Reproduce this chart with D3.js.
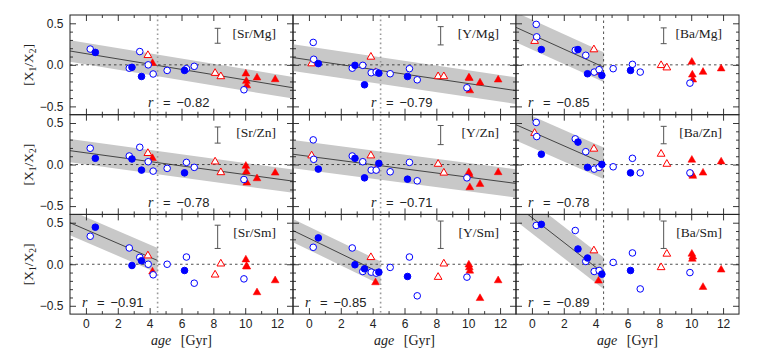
<!DOCTYPE html>
<html><head><meta charset="utf-8">
<script src="https://cdn.jsdelivr.net/npm/d3@7"></script>
<style>body{margin:0;background:#fff} svg{display:block}</style>
</head><body><svg id="c" width="764" height="354"></svg>
<script>
// ---- data ----
const starAge  = [0.27,0.30,0.17,0.59,2.72,2.89,3.38,3.49,3.89,3.91,4.18,4.22,4.39,5.10,6.19,6.31,6.80,8.11,8.47,9.92,10.04,10.07,10.10,10.74,11.88];
const starType = ["oc","oc","ot","fc","oc","fc","oc","fc","ot","oc","ft","oc","fc","oc","fc","oc","oc","ot","ot","oc","ft","ft","ft","ft","ft"];

const ratioSrMg = [0.19,null,null,0.15,-0.04,-0.03,0.16,-0.14,0.115,0.0,0.02,-0.11,null,-0.067,-0.067,-0.046,-0.018,-0.10,-0.14,-0.30,-0.107,-0.196,-0.25,-0.155,-0.176];
const ratioYMg  = [0.27,0.067,0.015,0.015,-0.04,-0.006,-0.006,-0.24,0.095,-0.095,-0.09,-0.087,-0.10,-0.107,-0.14,-0.046,-0.18,-0.14,-0.14,-0.276,-0.155,-0.16,-0.31,-0.216,-0.18];
const ratioBaMg = [0.487,0.337,0.285,0.184,0.176,0.184,0.115,-0.107,0.184,-0.087,-0.09,-0.058,-0.127,-0.046,-0.067,0.006,-0.087,-0.006,-0.034,-0.22,0.034,-0.12,-0.18,-0.087,-0.046];
const ratioSrZn = [0.196,null,null,0.075,0.103,0.067,0.208,-0.067,0.136,0.034,0.075,-0.079,null,-0.046,-0.10,0.026,-0.034,0.034,-0.095,-0.18,-0.018,-0.087,-0.22,-0.168,-0.10];
const ratioYZn  = [0.297,0.063,0.107,-0.055,0.103,0.075,0.034,-0.16,0.107,-0.067,-0.067,-0.067,0.014,-0.087,-0.176,0.026,-0.196,0.006,-0.10,-0.16,-0.095,-0.12,-0.276,-0.236,-0.095];
const ratioBaZn = [0.507,0.337,0.378,0.124,0.309,0.27,0.155,-0.034,0.188,-0.055,-0.04,-0.034,0.002,-0.027,-0.10,0.075,-0.10,0.127,0.006,-0.10,0.055,-0.12,-0.139,-0.10,0.034];
const ratioSrSm = [0.337,null,null,0.446,0.196,-0.015,0.083,0.042,0.103,0.0,-0.09,-0.127,null,0.0,-0.075,0.087,-0.228,-0.127,0.006,-0.176,0.055,-0.026,-0.03,-0.34,-0.196];
const ratioYSm  = [0.204,null,null,0.317,0.196,-0.006,-0.087,-0.055,0.083,-0.095,-0.22,-0.107,-0.095,-0.038,-0.147,0.087,-0.38,-0.155,0.006,-0.155,-0.006,-0.04,-0.08,-0.41,-0.196];
const ratioBaSm = [0.467,null,null,0.48,0.406,0.184,0.034,0.075,0.164,-0.087,-0.20,-0.075,-0.119,0.022,-0.075,0.136,-0.297,-0.038,0.124,-0.10,0.124,0.063,0.09,-0.276,-0.067];

const ratioLabels = ["[Sr/Mg]","[Y/Mg]","[Ba/Mg]","[Sr/Zn]","[Y/Zn]","[Ba/Zn]","[Sr/Sm]","[Y/Sm]","[Ba/Sm]"];
const fitSlope     = [-0.0316,-0.0284,-0.087,-0.0262,-0.0251,-0.0844,-0.0826,-0.093,-0.149];
const fitIntercept = [0.135,0.059,0.364,0.141,0.099,0.395,0.417,0.313,0.562];
const fitSigma     = [0.13,0.16,0.18,0.14,0.17,0.19,0.15,0.14,0.19];
const fitMaxAge    = [13,13,4.5,13,13,4.5,4.5,4.5,4.5];
const corrR        = [-0.82,-0.79,-0.85,-0.78,-0.71,-0.78,-0.91,-0.85,-0.89];
const errCenter    = [0.35,0.35,0.35,0.355,0.355,0.355,0.33,0.355,0.355];
const errHalf      = [0.09,0.11,0.095,0.097,0.115,0.105,0.14,0.165,0.165];
const errAge = 8.27;
const ageSplit = 4.5;
const xMajor = [0,2,4,6,8,10,12];
const xMinor = [1,3,5,7,9,11];
const yMajor = [-0.5,0,0.5];
const yMinor = [-0.4,-0.3,-0.2,-0.1,0.1,0.2,0.3,0.4];

const panelValues = [ratioSrMg,ratioYMg,ratioBaMg,ratioSrZn,ratioYZn,ratioBaZn,ratioSrSm,ratioYSm,ratioBaSm];

// ---- layout ----
const svg = d3.select("#c");
const L0 = 70, colW = 223, T0 = 15, rowH = 99.7;
const BLUE = "#0000ff", RED = "#ff0000", FRAME = "#222";
const sans = "'Liberation Sans', Arial, sans-serif";
const serif = "'Liberation Serif', 'Times New Roman', serif";
const fmt1 = d3.format(".1f"), fmt2 = d3.format(".2f");

const defs = svg.append("defs");

for (let p = 0; p < 9; p++) {
  const row = Math.floor(p / 3), col = p % 3;
  const left = L0 + col * colW, top = T0 + row * rowH;
  const x = d3.scaleLinear().domain([-1, 13]).range([left, left + colW]);
  const y = d3.scaleLinear().domain([-0.6, 0.6]).range([top + rowH, top]);
  const g = svg.append("g");

  defs.append("clipPath").attr("id", "clip" + p)
    .append("rect").attr("x", left).attr("y", top).attr("width", colW).attr("height", rowH);
  const cg = g.append("g").attr("clip-path", `url(#clip${p})`);

  // band + fit line
  const a0 = -1, a1 = fitMaxAge[p];
  const f = a => fitIntercept[p] + fitSlope[p] * a;
  const s = fitSigma[p];
  const band = [[a0, f(a0) + s], [a1, f(a1) + s], [a1, f(a1) - s], [a0, f(a0) - s]];
  cg.append("path")
    .attr("d", d3.line().x(d => x(d[0])).y(d => y(d[1]))(band) + "Z")
    .attr("fill", "#c8c8c8");
  cg.append("line")
    .attr("x1", x(a0)).attr("y1", y(f(a0))).attr("x2", x(a1)).attr("y2", y(f(a1)))
    .attr("stroke", "#222").attr("stroke-width", 0.8);

  // zero line
  g.append("line").attr("x1", x(-1)).attr("x2", x(13)).attr("y1", y(0)).attr("y2", y(0))
    .attr("stroke", "#222").attr("stroke-width", 0.8).attr("stroke-dasharray", "2.5,3");
  // vertical split line
  if (col < 2) {
    g.append("line").attr("x1", x(ageSplit)).attr("x2", x(ageSplit)).attr("y1", top).attr("y2", top + rowH)
      .attr("stroke", "#999").attr("stroke-width", 1.6).attr("stroke-dasharray", "1.6,3");
  } else {
    g.append("line").attr("x1", x(ageSplit)).attr("x2", x(ageSplit)).attr("y1", top).attr("y2", top + rowH)
      .attr("stroke", "#222").attr("stroke-width", 0.8).attr("stroke-dasharray", "2.5,3");
  }

  // error bar
  const ex = x(errAge), ey1 = y(errCenter[p] + errHalf[p]), ey2 = y(errCenter[p] - errHalf[p]);
  const eb = g.append("g").attr("stroke", "#555").attr("stroke-width", 1);
  eb.append("line").attr("x1", ex).attr("x2", ex).attr("y1", ey1).attr("y2", ey2);
  eb.append("line").attr("x1", ex - 3).attr("x2", ex + 3).attr("y1", ey1).attr("y2", ey1);
  eb.append("line").attr("x1", ex - 3).attr("x2", ex + 3).attr("y1", ey2).attr("y2", ey2);

  // markers
  const vals = panelValues[p];
  const pts = starAge.map((a, i) => ({ a, v: vals[i], t: starType[i] })).filter(d => d.v !== null);
  const tri = d3.symbol().type(d3.symbolTriangle).size(26);
  ["ot", "ft"].forEach(t => {
    g.selectAll(null).data(pts.filter(d => d.t === t)).join("path")
      .attr("d", tri)
      .attr("transform", d => `translate(${x(d.a)},${y(d.v)})`)
      .attr("fill", t === "ft" ? RED : "#fff")
      .attr("stroke", RED).attr("stroke-width", t === "ft" ? 0.5 : 1);
  });
  ["oc", "fc"].forEach(t => {
    g.selectAll(null).data(pts.filter(d => d.t === t)).join("circle")
      .attr("cx", d => x(d.a)).attr("cy", d => y(d.v)).attr("r", 3.3)
      .attr("fill", t === "fc" ? BLUE : "#fff")
      .attr("stroke", BLUE).attr("stroke-width", 1);
  });

  // axes (ticks inward on all sides)
  const styleAxis = sel => {
    sel.select(".domain").remove();
    sel.selectAll(".tick line").attr("stroke", FRAME).attr("stroke-width", 0.9);
    sel.selectAll("text").attr("font-family", sans).attr("font-size", 12).attr("fill", "#222");
  };
  g.append("g").attr("transform", `translate(0,${top + rowH})`)
    .call(d3.axisBottom(x).tickValues(xMajor).tickSize(-6).tickPadding(5)
      .tickFormat(row === 2 ? d3.format("d") : () => "")).call(styleAxis);
  g.append("g").attr("transform", `translate(0,${top + rowH})`)
    .call(d3.axisBottom(x).tickValues(xMinor).tickSize(-3).tickFormat(() => "")).call(styleAxis);
  g.append("g").attr("transform", `translate(0,${top})`)
    .call(d3.axisTop(x).tickValues(xMajor).tickSize(-6).tickFormat(() => "")).call(styleAxis);
  g.append("g").attr("transform", `translate(0,${top})`)
    .call(d3.axisTop(x).tickValues(xMinor).tickSize(-3).tickFormat(() => "")).call(styleAxis);
  g.append("g").attr("transform", `translate(${left},0)`)
    .call(d3.axisLeft(y).tickValues(yMajor).tickSize(-6).tickPadding(6.5)
      .tickFormat(col === 0 ? fmt1 : () => "")).call(styleAxis);
  g.append("g").attr("transform", `translate(${left},0)`)
    .call(d3.axisLeft(y).tickValues(yMinor).tickSize(-3).tickFormat(() => "")).call(styleAxis);
  g.append("g").attr("transform", `translate(${left + colW},0)`)
    .call(d3.axisRight(y).tickValues(yMajor).tickSize(-6).tickFormat(() => "")).call(styleAxis);
  g.append("g").attr("transform", `translate(${left + colW},0)`)
    .call(d3.axisRight(y).tickValues(yMinor).tickSize(-3).tickFormat(() => "")).call(styleAxis);

  // frame
  g.append("rect").attr("x", left).attr("y", top).attr("width", colW).attr("height", rowH)
    .attr("fill", "none").attr("stroke", FRAME).attr("stroke-width", 1);

  // label
  g.append("text").attr("x", left + colW - 17).attr("y", top + 22.5)
    .attr("text-anchor", "end").attr("font-family", serif).attr("font-size", 13.5).attr("fill", "#222")
    .text(ratioLabels[p]);

  // correlation
  const rx = (row < 2 && col < 2) ? left + 78 : left + 12;
  const ry = top + rowH - 7.5;
  const rt = g.append("g").attr("fill", "#222");
  rt.append("text").attr("x", rx).attr("y", ry).attr("font-family", serif).attr("font-style", "italic")
    .attr("font-size", 14).text("r");
  rt.append("text").attr("x", rx + 15).attr("y", ry).attr("font-family", sans).attr("font-size", 13).text("=");
  rt.append("text").attr("x", rx + 28.5).attr("y", ry).attr("font-family", sans).attr("font-size", 13).text(fmt2(corrR[p]));
}

// y titles
for (let row = 0; row < 3; row++) {
  const cy = T0 + row * rowH + rowH / 2;
  const t = svg.append("text").attr("transform", `translate(33,${cy}) rotate(-90)`)
    .attr("text-anchor", "middle").attr("font-family", serif).attr("font-size", 13.5).attr("fill", "#222");
  t.append("tspan").text("[X");
  t.append("tspan").attr("font-size", 9.5).attr("dy", 3).text("1");
  t.append("tspan").attr("dy", -3).text("/X");
  t.append("tspan").attr("font-size", 9.5).attr("dy", 3).text("2");
  t.append("tspan").attr("dy", -3).text("]");
}
// x titles
for (let col = 0; col < 3; col++) {
  const cx = L0 + col * colW + colW / 2;
  const t = svg.append("text").attr("x", cx).attr("y", 345)
    .attr("text-anchor", "middle").attr("font-family", serif).attr("font-size", 14).attr("fill", "#222");
  t.append("tspan").attr("font-style", "italic").text("age");
  t.append("tspan").attr("dx", 6).text(" [Gyr]");
}
</script></body></html>
